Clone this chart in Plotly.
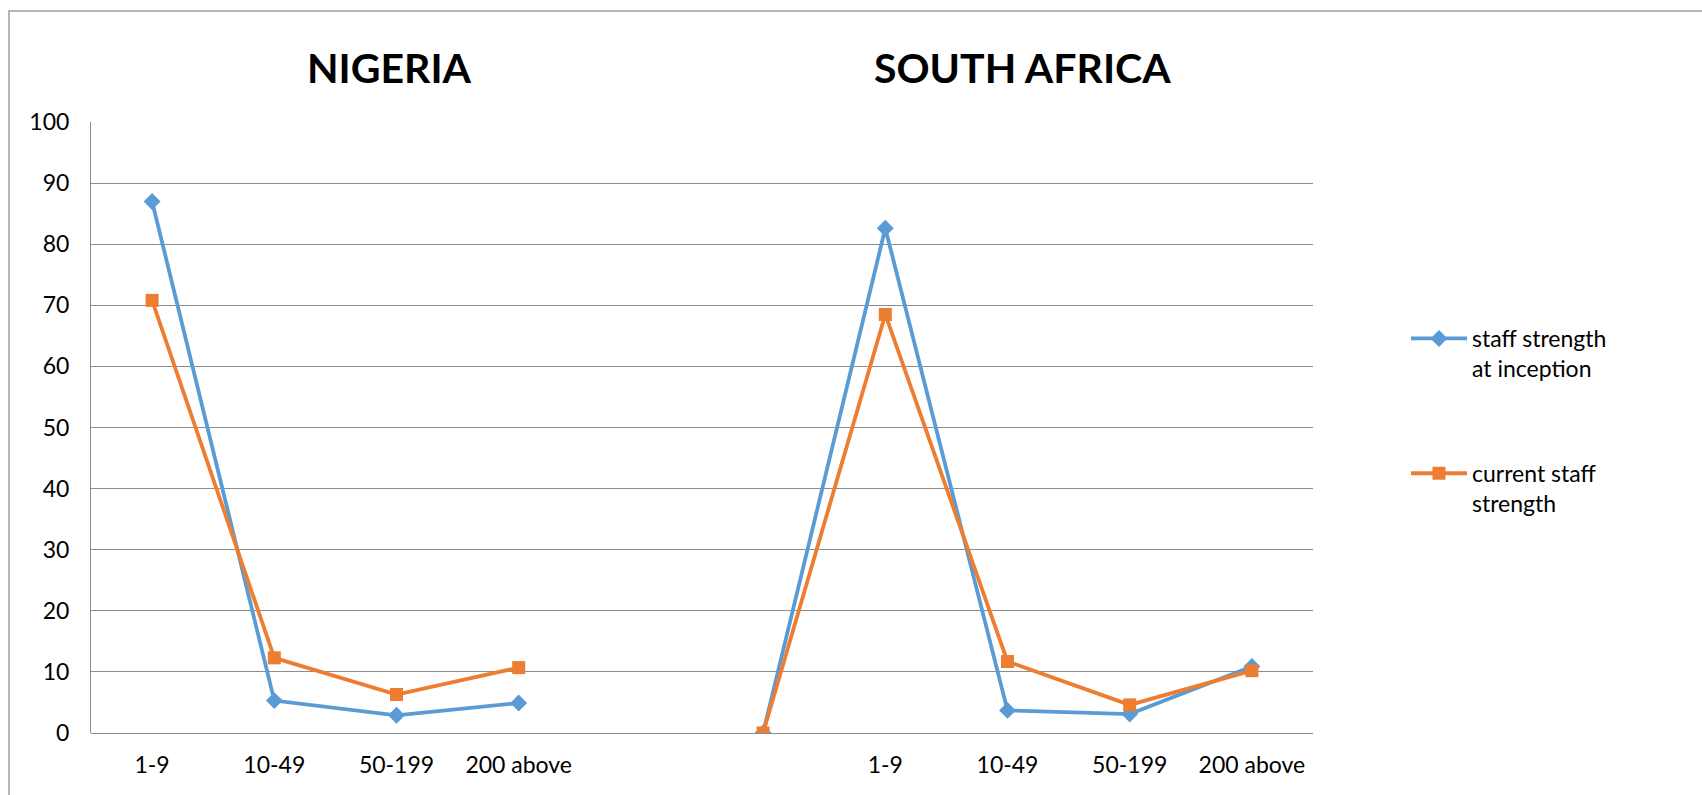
import plotly.graph_objects as go

# Staff-size bands, Nigeria block, an empty slot, then South Africa block
size_bands = ["1-9", "10-49", "50-199", "200 above", "", "", "1-9", "10-49", "50-199", "200 above"]
positions = list(range(len(size_bands)))

staff_at_inception = [87.0, 5.3, 2.9, 4.9, None, 0.0, 82.6, 3.7, 3.1, 10.9]
current_staff = [70.8, 12.3, 6.3, 10.7, None, 0.0, 68.5, 11.7, 4.6, 10.2]

country_titles = ["NIGERIA", "SOUTH AFRICA"]
title_positions = [1.94, 7.12]

BLUE = "#5B9BD5"
ORANGE = "#ED7D31"
FONT = "Lato, 'Open Sans', sans-serif"

W, H = 1702, 795
L, R, T, B = 91, 389, 122, 62
plot_w = W - L - R
plot_h = H - T - B

fig = go.Figure()
fig.add_trace(go.Scatter(
    x=positions, y=staff_at_inception, mode="lines+markers",
    name="staff strength<br>at inception", legendgroup="a",
    line=dict(color=BLUE, width=3.8),
    marker=dict(symbol="diamond", size=13, color=BLUE),
    connectgaps=False,
))
fig.add_trace(go.Scatter(
    x=positions, y=current_staff, mode="lines+markers",
    name="current staff<br>strength", legendgroup="b",
    line=dict(color=ORANGE, width=3.8),
    marker=dict(symbol="square", size=13, color=ORANGE),
    connectgaps=False,
))

for title, xpos in zip(country_titles, title_positions):
    fig.add_annotation(
        x=xpos, xref="x", y=1 + (T - 67) / plot_h, yref="paper",
        text="<b>%s</b>" % title, showarrow=False,
        font=dict(family=FONT, size=41, color="#000000"),
        xanchor="center", yanchor="middle",
    )

# outer chart frame
fig.add_shape(
    type="rect", xref="paper", yref="paper",
    x0=(9 - L) / plot_w, x1=(W + 20 - L) / plot_w,
    y0=-(B + 20) / plot_h, y1=1 + (T - 11) / plot_h,
    line=dict(color="#A0A0A0", width=1.5), fillcolor="rgba(0,0,0,0)",
    layer="below",
)

fig.update_layout(
    width=W, height=H,
    margin=dict(l=L, r=R, t=T, b=B),
    paper_bgcolor="white", plot_bgcolor="white",
    font=dict(family=FONT, size=23, color="#000000"),
    showlegend=True,
    legend=dict(
        x=(1406 - L) / plot_w, y=1 - (317 - T) / plot_h,
        xanchor="left", yanchor="top", valign="top",
        font=dict(size=23, family=FONT),
        tracegroupgap=72, itemwidth=56,
        bgcolor="rgba(0,0,0,0)",
    ),
    xaxis=dict(
        range=[-0.5, len(size_bands) - 0.5],
        tickmode="array", tickvals=positions, ticktext=size_bands,
        showgrid=False, zeroline=False, showline=False,
        ticks="", ticklabelstandoff=16,
        tickfont=dict(size=23, family=FONT),
    ),
    yaxis=dict(
        range=[0, 100], tickmode="linear", tick0=0, dtick=10,
        showgrid=True, gridcolor="#8C8C8C", gridwidth=1,
        zeroline=True, zerolinecolor="#8C8C8C", zerolinewidth=1,
        showline=True, linecolor="#8C8C8C", linewidth=1,
        ticks="", ticklabelstandoff=16,
        tickfont=dict(size=23, family=FONT),
    ),
)

fig.write_html("out.html")
